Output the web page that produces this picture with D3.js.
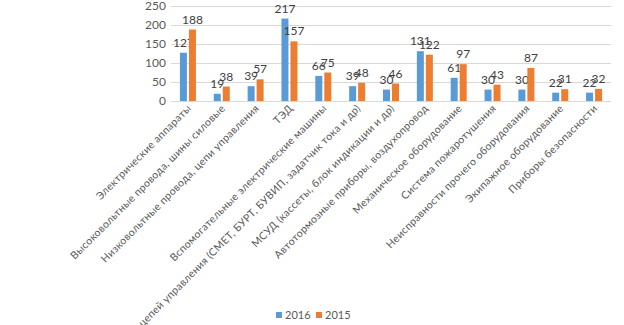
<!DOCTYPE html>
<html><head><meta charset="utf-8">
<script src="https://cdn.jsdelivr.net/npm/d3@7"></script>
<style>body{margin:0;background:#fff}svg{display:block;font-family:Lato,"Open Sans",sans-serif}</style>
</head><body><svg id="c" width="624" height="325"></svg>
<script>
const categories = ["Электрические аппараты","Высоковольтные провода, шины силовые","Низковольтные провода, цепи управления","ТЭД","Вспомогательные электрические машины","Аппараты цепей управления (СМЕТ, БУРТ, БУВИП, задатчик тока и др)","МСУД (кассеты, блок индикации и др)","Автотормозные приборы, воздухопровод","Механическое оборудование","Система пожаротушения","Неисправности прочего оборудования","Экипажное оборудование","Приборы безопасности"];
const values2016 = [127,19,39,217,66,39,30,131,61,30,30,22,22];
const values2015 = [188,38,57,157,75,48,46,122,97,43,87,31,32];
const seriesNames = ["2016","2015"];
const colors = ["#5b9bd5","#ed7d31"];
const yTicks = [0,50,100,150,200,250];

const svg = d3.select("#c");
const L=171,R=611,T=6,B=101;
const x = d3.scaleBand().domain(categories).range([L,R]);
const y = d3.scaleLinear().domain([0,250]).range([B,T]);
const bw=7, gap=2;
const xs = d3.scaleOrdinal().domain(seriesNames).range([-bw-gap/2, gap/2]);

svg.append("g").selectAll("line").data(yTicks).join("line")
  .attr("x1",L).attr("x2",R).attr("y1",d=>y(d)).attr("y2",d=>y(d))
  .attr("stroke","#d9d9d9").attr("stroke-width",1).attr("shape-rendering","crispEdges");
svg.append("g").selectAll("text").data(yTicks).join("text")
  .attr("x",166).attr("y",d=>y(d)+4).attr("text-anchor","end")
  .attr("font-size",12).attr("fill","#595959").text(d=>d);

const series = [values2016, values2015];
series.forEach((vals,si)=>{
  const g = svg.append("g");
  g.selectAll("rect").data(vals).join("rect")
    .attr("x",(d,i)=>x(categories[i])+x.bandwidth()/2+xs(seriesNames[si]))
    .attr("y",d=>y(d)).attr("width",bw).attr("height",d=>y(0)-y(d))
    .attr("fill",colors[si]);
  g.selectAll("text").data(vals).join("text")
    .attr("x",(d,i)=>x(categories[i])+x.bandwidth()/2+xs(seriesNames[si])+bw/2)
    .attr("y",d=>y(d)-6).attr("text-anchor","middle")
    .attr("font-size",12).attr("fill","#404040").text(d=>d);
});

svg.append("g").selectAll("text").data(categories).join("text")
  .attr("transform",d=>`translate(${x(d)+x.bandwidth()/2+4},${109}) rotate(-45)`)
  .attr("text-anchor","end").attr("font-size",10.5).attr("fill","#595959")
  .attr("letter-spacing",0.3).text(d=>d);

const lg = svg.append("g");
const lx=[276,316];
seriesNames.forEach((s,i)=>{
  lg.append("rect").attr("x",lx[i]).attr("y",312).attr("width",6).attr("height",6).attr("fill",colors[i]);
  lg.append("text").attr("x",lx[i]+9).attr("y",319).attr("font-size",11).attr("fill","#595959").text(s);
});
</script></body></html>
